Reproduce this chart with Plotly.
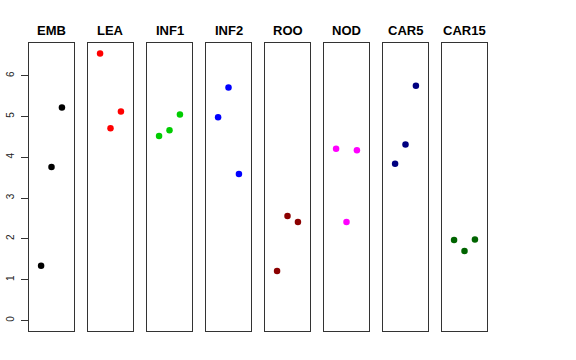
import plotly.graph_objects as go

categories = ["EMB", "LEA", "INF1", "INF2", "ROO", "NOD", "CAR5", "CAR15"]
colors = ["#000000", "#FF0000", "#00CD00", "#0000FF", "#8B0000", "#FF00FF", "#000080", "#006400"]
x_pos = [1, 2, 3]
values = [
    [1.34, 3.76, 5.22],
    [6.54, 4.71, 5.12],
    [4.52, 4.66, 5.05],
    [4.98, 5.71, 3.59],
    [1.21, 2.56, 2.41],
    [4.21, 2.41, 4.17],
    [3.84, 4.31, 5.75],
    [1.97, 1.70, 1.98],
]
y_ticks = [0, 1, 2, 3, 4, 5, 6]

W, H = 576, 360
ml, mt = 29, 43
pw, ph = 459, 288
mr, mb = W - ml - pw, H - mt - ph
step, width = 59.0, 45.0

fig = go.Figure()
layout = dict(
    width=W, height=H,
    margin=dict(l=ml, r=mr, t=mt, b=mb, pad=0, autoexpand=False),
    paper_bgcolor="white", plot_bgcolor="white",
    showlegend=False,
    font=dict(family="Liberation Sans, Arial, sans-serif", color="black"),
)
annotations = []
for i, (cat, col, vals) in enumerate(zip(categories, colors, values)):
    n = "" if i == 0 else str(i + 1)
    fig.add_trace(go.Scatter(
        x=x_pos, y=vals, mode="markers",
        marker=dict(color=col, size=6.5, line=dict(width=0)),
        xaxis="x" + n, yaxis="y" + n, hoverinfo="skip",
    ))
    d0 = i * step / pw
    d1 = (i * step + width) / pw
    layout["xaxis" + n] = dict(
        domain=[d0, d1], range=[-0.16, 4.16], anchor="y" + n,
        showgrid=False, zeroline=False, showticklabels=False, ticks="",
        showline=True, mirror=True, linecolor="#333333", linewidth=1,
        automargin=False,
    )
    ydict = dict(
        range=[-0.26, 6.80], anchor="x" + n,
        showgrid=False, zeroline=False, automargin=False,
        showline=True, mirror=True, linecolor="#333333", linewidth=1,
    )
    if i == 0:
        ydict.update(tickvals=y_ticks, ticktext=[str(t) for t in y_ticks],
                     ticks="outside", ticklen=7, tickcolor="#333333",
                     tickangle=-90, tickfont=dict(size=10, color="#222222"),
                     ticklabelstandoff=3)
    else:
        ydict.update(matches="y", showticklabels=False, ticks="")
    layout["yaxis" + n] = ydict
    annotations.append(dict(
        text="<b>" + cat + "</b>", x=(d0 + d1) / 2, y=1, xref="paper", yref="paper",
        xanchor="center", yanchor="middle", yshift=13, showarrow=False,
        font=dict(size=13, color="black", family="Liberation Sans, Arial, sans-serif"),
    ))
layout["annotations"] = annotations
fig.update_layout(**layout)
fig.write_html("out.html", config={"displayModeBar": False},
               post_script="document.body.style.margin='0';")
